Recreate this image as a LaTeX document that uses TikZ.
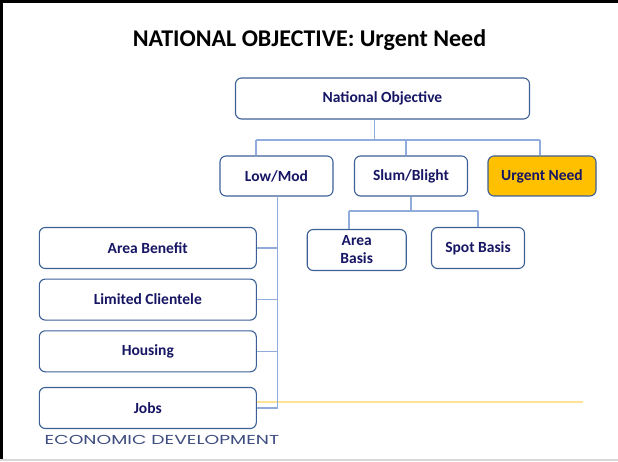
\documentclass[tikz,border=0pt]{standalone}
\usepackage{fontspec}
\setmainfont{Carlito}
\newfontfamily\geofont[FakeStretch=1.44]{Poppins}
\usetikzlibrary{calc}
\definecolor{boxline}{RGB}{60,95,150}
\definecolor{connblue}{RGB}{143,172,220}
\definecolor{navytxt}{RGB}{22,22,100}
\definecolor{goldfill}{RGB}{255,192,0}
\definecolor{goldline}{RGB}{255,226,150}
\definecolor{footblue}{RGB}{62,78,128}
\definecolor{framegray}{RGB}{217,217,217}
\tikzset{
  box/.style={draw=boxline, line width=1.1pt, rounded corners=6pt, fill=white,
    text=navytxt, font=\fontsize{15.5}{18}\selectfont\bfseries, inner sep=0pt,
    align=center, anchor=center},
  conn/.style={draw=connblue, line width=1.2pt},
}
\begin{document}
\begin{tikzpicture}[x=1pt,y=-1pt]
\useasboundingbox (0,0) rectangle (618,462);
% frame
\fill[black] (0,0) rectangle (618,3);
\fill[black] (0,0) rectangle (3,459);
\fill[framegray] (0,459) rectangle (618,461);
% title
\node[font=\fontsize{24}{28}\selectfont\bfseries, anchor=center] (title) at (309.5,40) {NATIONAL OBJECTIVE: Urgent Need};
% nodes
\node[box, minimum width=294pt, minimum height=41pt] (natobj) at (382.5,98.5) {National Objective};
\node[box, minimum width=113pt, minimum height=40pt] (lowmod) at (276.5,176) {Low/Mod};
\node[box, minimum width=113pt, minimum height=40pt] (slum) at (411,176) {Slum/Blight};
\node[box, fill=goldfill, minimum width=108pt, minimum height=40pt] (urgent) at (542,176) {Urgent Need};
\node[box, minimum width=217pt, minimum height=41pt] (areaben) at (147.8,248) {Area Benefit};
\node[box, minimum width=217pt, minimum height=41pt] (limcli) at (147.8,299.6) {Limited Clientele};
\node[box, minimum width=217pt, minimum height=41pt] (housing) at (147.8,351.3) {Housing};
\node[box, minimum width=217pt, minimum height=41pt] (jobs) at (147.8,408) {Jobs};
\node[box, minimum width=99pt, minimum height=41pt] (areabasis) at (356.7,250) {Area\\Basis};
\node[box, minimum width=93pt, minimum height=41pt] (spot) at (478,248) {Spot Basis};
% top bus
\coordinate (j0) at (374.5,140);
\coordinate (b1) at (256,140);
\coordinate (b2) at (406,140);
\coordinate (b3) at (540,140);
\draw[conn] (natobj.south -| j0) -- (j0);
\draw[conn] (b1) -- (b3);
\draw[conn] (b1) -- (b1 |- lowmod.north);
\draw[conn] (b2) -- (b2 |- slum.north);
\draw[conn] (b3) -- (b3 |- urgent.north);
% slum bus
\coordinate (s0) at (411,211);
\coordinate (s1) at (349,211);
\coordinate (s2) at (478,211);
\draw[conn] (slum.south) -- (s0);
\draw[conn] (s1) -- (s2);
\draw[conn] (s1) -- (s1 |- areabasis.north);
\draw[conn] (s2) -- (spot.north);
% gold line
\coordinate (gend) at (583.4,401.7);
\draw[goldline, line width=2.2pt] (jobs.east |- gend) -- (gend);
% low/mod trunk
\coordinate (t0) at (277.5,196);
\coordinate (t1) at (277.5,408);
\draw[conn] (t0) -- (t1);
\draw[conn] (areaben.east) -- (areaben.east -| t0);
\draw[conn] (limcli.east) -- (limcli.east -| t0);
\draw[conn] (housing.east) -- (housing.east -| t0);
\draw[conn] (jobs.east) -- (t1);
% footer
\node[anchor=west, text=footblue, font=\geofont\fontsize{13}{15}\selectfont, inner sep=0pt] (footer) at (44.5,440) {ECONOMIC DEVELOPMENT};
\end{tikzpicture}
\end{document}
